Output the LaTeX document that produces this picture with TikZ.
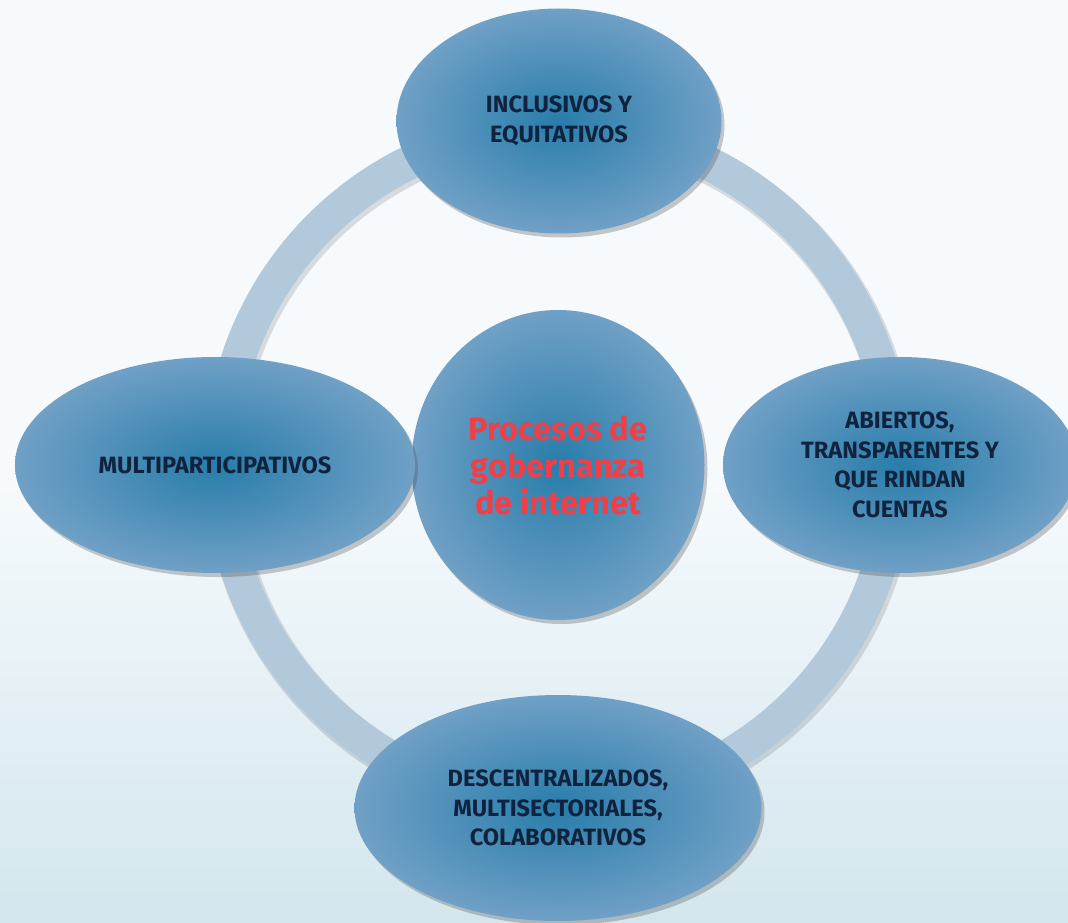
\documentclass[tikz,border=0pt]{standalone}
\usepackage{fontspec}
\setmainfont{Fira Sans}
\usetikzlibrary{shapes.geometric,shadows}

\definecolor{navytext}{RGB}{16,35,62}
\definecolor{redtext}{RGB}{242,62,70}
\definecolor{ringblue}{RGB}{177,201,218}
\definecolor{blobin}{RGB}{40,125,170}
\definecolor{blobout}{RGB}{112,160,198}
\definecolor{bgtop}{RGB}{246,250,253}
\definecolor{bgbot}{RGB}{211,230,237}

\tikzset{
  blob/.style={ellipse, inner sep=0pt, align=center,
    inner color=blobin, outer color=blobout,
    drop shadow={shadow xshift=3pt, shadow yshift=-4pt, opacity=0.3, fill=black!70},
    text=navytext, font=\bfseries\fontsize{23.6}{29.5}\selectfont},
  hub/.style={blob, text=redtext, font=\bfseries\fontsize{32.5}{37}\selectfont}
}

\begin{document}
\begin{tikzpicture}[line cap=round,line join=round,x=1pt,y=-1pt]
      \fill[bgtop] (0,0) rectangle (1068,923);
      \shade[top color=bgtop, bottom color=bgbot] (0,480) rectangle (1068,923);
      \useasboundingbox (0,0) rectangle (1068,923);

      \coordinate (mid) at (558,465);
      \draw[line width=37, black, opacity=0.12] ([shift={(2,3)}]mid) circle (337);
      \draw[line width=34, ringblue] (mid) circle (337);

      \node[hub, minimum width=293, minimum height=310] (proc) at (mid) {Procesos de\\gobernanza\\de internet};

      \node[blob, minimum width=325, minimum height=225] (incl) at (559,121) {INCLUSIVOS Y\\EQUITATIVOS};
      \node[blob, minimum width=400, minimum height=216] (multi) at (215,465) {MULTIPARTICIPATIVOS};
      \node[blob, minimum width=354, minimum height=216] (abier) at (900,465) {ABIERTOS,\\TRANSPARENTES Y\\QUE RINDAN\\CUENTAS};
      \node[blob, minimum width=407, minimum height=226] (desc) at (558,808) {DESCENTRALIZADOS,\\MULTISECTORIALES,\\COLABORATIVOS};
    \end{tikzpicture}
\end{document}
